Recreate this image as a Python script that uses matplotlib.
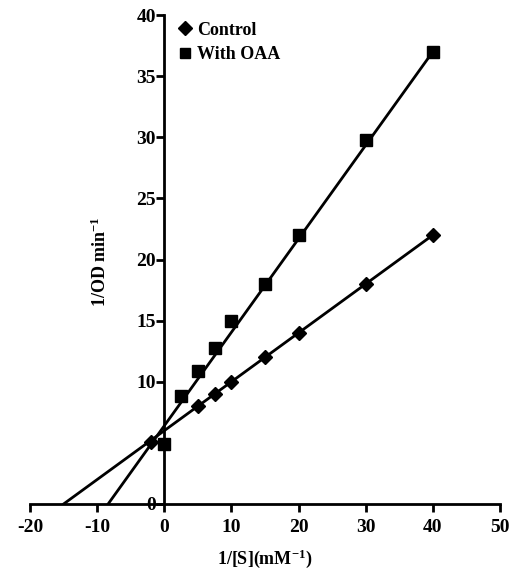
import numpy as np
import matplotlib.pyplot as plt

# Lineweaver-Burk data
x_control = [-2, 5, 7.5, 10, 15, 20, 30, 40]
y_control = [5.1, 8.0, 9.0, 10.0, 12.0, 14.0, 18.0, 22.0]
x_oaa = [0, 2.5, 5, 7.5, 10, 15, 20, 30, 40]
y_oaa = [4.9, 8.8, 10.9, 12.8, 15.0, 18.0, 22.0, 29.8, 37.0]

# regression lines (slope, intercept) as drawn in the figure
control_fit = (0.40, 6.0)
oaa_fit = (0.765, 6.4)

plt.rcParams["font.family"] = ["Liberation Serif", "DejaVu Serif"]
plt.rcParams["font.weight"] = "bold"
plt.rcParams["axes.unicode_minus"] = False
plt.rcParams["mathtext.fontset"] = "custom"
plt.rcParams["mathtext.rm"] = "Liberation Serif:bold"
plt.rcParams["mathtext.default"] = "rm"

fig = plt.figure(figsize=(5.11, 5.69), dpi=100)
ax = fig.add_axes([30 / 511, 65 / 569, 470 / 511, 489 / 569])


def draw_fit(fit, x_end):
    # line from the x-intercept out to the last point
    m, b = fit
    xx = np.array([-b / m, x_end])
    ax.plot(xx, m * xx + b, color="black", lw=2)


draw_fit(control_fit, max(x_control))
draw_fit(oaa_fit, max(x_oaa))

ax.plot(x_control, y_control, "D", color="black", ms=7.5, label="Control")
ax.plot(x_oaa, y_oaa, "s", color="black", ms=8, label="With OAA")

ax.set_xlim(-20, 50)
ax.set_ylim(0, 40)
ax.spines["left"].set_position(("data", 0))
ax.spines["top"].set_visible(False)
ax.spines["right"].set_visible(False)
ax.spines["left"].set_linewidth(2)
ax.spines["bottom"].set_linewidth(2)

ax.set_xticks([-20, -10, 0, 10, 20, 30, 40, 50])
ax.set_yticks([0, 10, 15, 20, 25, 30, 35, 40])
ax.tick_params(direction="out", length=6, width=2, labelsize=14)
ax.tick_params(axis="x", pad=5)
ax.tick_params(axis="y", pad=0)

fig.text(265 / 511, 10 / 569, r"1/[S](mM$^{-1}$)", ha="center", va="center",
         fontsize=13, fontweight="bold")
fig.text(100 / 511, 1 - 262 / 569, r"1/OD min$^{-1}$", ha="center", va="center",
         rotation=90, fontsize=13, fontweight="bold")

leg = ax.legend(loc="upper left", bbox_to_anchor=(138 / 470, 1 + 6 / 489),
                frameon=False, handlelength=0.5, handletextpad=0.4,
                borderpad=0.2, labelspacing=0.4,
                prop={"size": 13, "weight": "bold"})
leg.legend_handles[1].set_markersize(6.5)

fig.savefig("out.png", dpi=100)
